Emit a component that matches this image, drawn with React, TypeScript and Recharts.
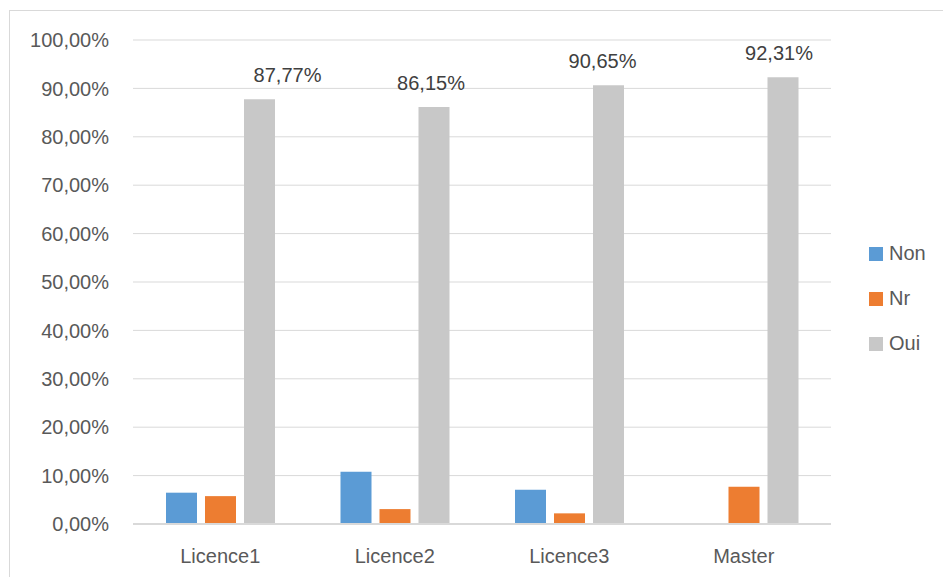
import React from "react";
import { BarChart, Bar, XAxis, YAxis, CartesianGrid, LabelList } from "recharts";

const categories = ["Licence1", "Licence2", "Licence3", "Master"];
const nonValues = [6.47, 10.77, 7.1, 0];
const nrValues = [5.76, 3.08, 2.2, 7.69];
const ouiValues = [87.77, 86.15, 90.65, 92.31];
const yTicks = [0, 10, 20, 30, 40, 50, 60, 70, 80, 90, 100];
const labelShift = [28, -3, -6, -4];

const seriesInfo = [
  { key: "Non", color: "#5B9BD5" },
  { key: "Nr", color: "#ED7D31" },
  { key: "Oui", color: "#C8C8C8" },
];

const data = categories.map((c, i) => ({
  name: c,
  Non: nonValues[i],
  Nr: nrValues[i],
  Oui: ouiValues[i],
}));

const fmt = (v: number) => v.toFixed(2).replace(".", ",") + "%";
const FONT = "'Liberation Sans', Arial, sans-serif";

const OuiLabel = (props: any) => {
  const { x, y, width, value, index } = props;
  return (
    <text
      x={x + width / 2 + (labelShift[index] || 0)}
      y={y - 24}
      textAnchor="middle"
      dominantBaseline="central"
      fill="#404040"
      fontSize={20}
      fontFamily={FONT}
    >
      {fmt(value)}
    </text>
  );
};

const LegendBox = () => (
  <div
    style={{
      position: "absolute",
      left: 869,
      top: 231,
      fontFamily: FONT,
      fontSize: 20,
      color: "#595959",
    }}
  >
    {seriesInfo.map((s) => (
      <div key={s.key} style={{ display: "flex", alignItems: "center", height: 45 }}>
        <div style={{ width: 14, height: 14, background: s.color, marginRight: 6 }} />
        <span>{s.key}</span>
      </div>
    ))}
  </div>
);

export default function App() {
  return (
    <div style={{ position: "absolute", left: 0, top: 0, width: 943, height: 577, background: "#fff", overflow: "hidden" }}>
      <div
        style={{
          position: "absolute",
          left: 9,
          top: 10,
          width: 940,
          height: 580,
          borderTop: "1px solid #d9d9d9",
          borderLeft: "1px solid #d9d9d9",
        }}
      />
      <div style={{ position: "absolute", left: 0, top: 0 }}>
        <BarChart
          width={943}
          height={577}
          data={data}
          margin={{ top: 40, right: 112, bottom: 0, left: 0 }}
          barCategoryGap={33}
          barGap={8}
        >
          <CartesianGrid horizontal={true} vertical={false} stroke="#d9d9d9" strokeWidth={1} />
          <XAxis
            dataKey="name"
            height={53}
            axisLine={{ stroke: "#d9d9d9", strokeWidth: 2 }}
            tickLine={false}
            tickSize={0}
            tickMargin={25}
            tick={{ fill: "#595959", fontSize: 20, fontFamily: FONT }}
          />
          <YAxis
            width={133}
            domain={[0, 100]}
            ticks={yTicks}
            axisLine={false}
            tickLine={false}
            tickSize={0}
            tickMargin={24}
            tickFormatter={fmt}
            tick={{ fill: "#595959", fontSize: 20, fontFamily: FONT }}
          />
          {seriesInfo.map((s) => (
            <Bar key={s.key} dataKey={s.key} fill={s.color} isAnimationActive={false}>
              {s.key === "Oui" ? <LabelList dataKey="Oui" content={<OuiLabel />} /> : null}
            </Bar>
          ))}
        </BarChart>
      </div>
      <LegendBox />
    </div>
  );
}
